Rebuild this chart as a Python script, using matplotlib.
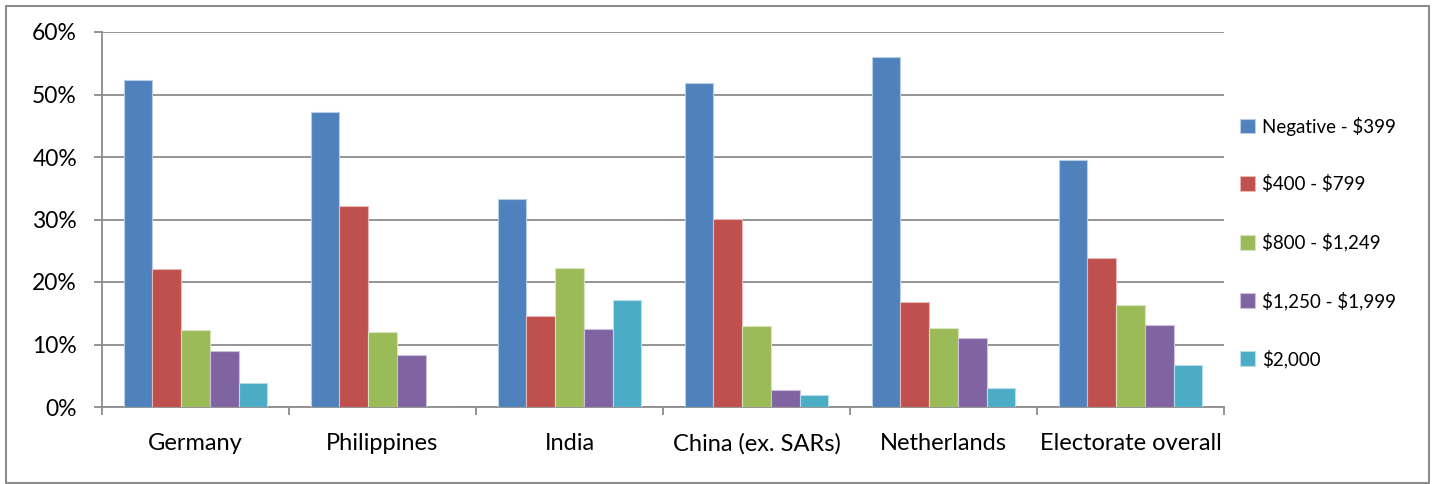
import numpy as np
import matplotlib
matplotlib.use('Agg')
import matplotlib.pyplot as plt
from matplotlib.patches import Rectangle, Patch
from matplotlib.ticker import PercentFormatter, FixedLocator

# %% Data

countries = ['Germany', 'Philippines', 'India', 'China (ex. SARs)',
             'Netherlands', 'Electorate overall']
bands = ['Negative - $399', '$400 - $799', '$800 - $1,249',
         '$1,250 - $1,999', '$2,000']

neg_399 = [52.3, 47.2, 33.3, 51.8, 56.0, 39.5]
b400_799 = [22.1, 32.2, 14.6, 30.1, 16.8, 23.9]
b800_1249 = [12.3, 12.0, 22.2, 12.9, 12.7, 16.4]
b1250_1999 = [9.0, 8.3, 12.5, 2.8, 11.1, 13.1]
b2000 = [3.9, 0.0, 17.1, 2.0, 3.0, 6.7]

series = [neg_399, b400_799, b800_1249, b1250_1999, b2000]
colors = ['#4F81BD', '#C0504D', '#9BBB59', '#8064A2', '#4BACC6']
edges = ['#B9CDE5', '#E6B9B8', '#D7E4BD', '#CCC1DA', '#B7DEE8']

# %% Plot

plt.rcParams['font.family'] = ['Lato', 'DejaVu Sans']
plt.rcParams['text.parse_math'] = False  # keep the $ signs literal
grey = '#8C8C8C'

fig = plt.figure(figsize=(14.37, 4.84), dpi=100)
ax = fig.add_axes([102 / 1437, 1 - 407 / 484, 1122 / 1437, 375 / 484])

x = np.arange(len(countries))
w = 0.1535
for i, vals in enumerate(series):
    ax.bar(x + (i - 2) * w, vals, width=w, color=colors[i],
           edgecolor=edges[i], linewidth=0.8, zorder=3)

ax.set_xlim(-0.5, len(countries) - 0.5)
ax.set_ylim(0, 60)
ax.set_yticks(np.arange(0, 61, 10))
ax.yaxis.set_major_formatter(PercentFormatter(decimals=0))
ax.grid(axis='y', color=grey, linewidth=1.3, zorder=0)

ax.set_xticks(x)
ax.set_xticklabels(countries, fontsize=17)
ax.xaxis.set_minor_locator(FixedLocator(np.arange(-0.5, len(countries), 1)))
ax.tick_params(axis='x', which='major', length=0, pad=19)
ax.tick_params(axis='x', which='minor', length=6, width=1.3, color=grey)
ax.tick_params(axis='y', length=6, width=1.3, color=grey, labelsize=16.5, pad=12)

for s in ['top', 'right']:
    ax.spines[s].set_visible(False)
for s in ['left', 'bottom']:
    ax.spines[s].set_color(grey)
    ax.spines[s].set_linewidth(1.3)

handles = [Patch(facecolor=c, edgecolor=e, linewidth=0.8) for c, e in zip(colors, edges)]
fig.legend(handles, bands, loc='upper left', bbox_to_anchor=(1232 / 1437, 1 - 109 / 484),
           frameon=False, fontsize=13.5, handlelength=0.85, handleheight=0.85,
           handletextpad=0.35, labelspacing=2.12, borderaxespad=0)

fig.patches.append(Rectangle((6 / 1437, 1 / 484), 1423 / 1437, 477 / 484,
                             transform=fig.transFigure, fill=False,
                             edgecolor=grey, linewidth=1.5))

fig.savefig('out.png', dpi=100)
